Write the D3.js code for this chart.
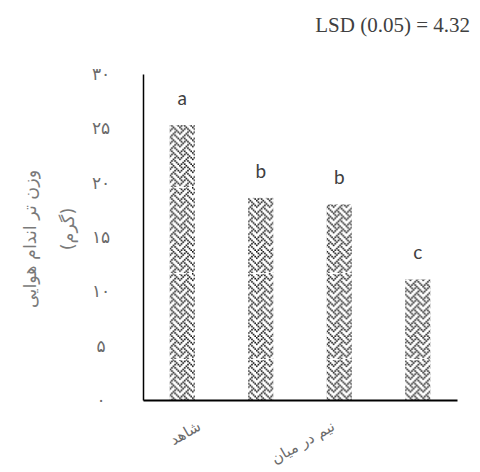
<!DOCTYPE html>
<html>
<head>
<meta charset="utf-8">
<script src="https://cdn.jsdelivr.net/npm/d3@7"></script>
<style>
  html, body { margin: 0; padding: 0; background: #fff; }
  svg { display: block; }
</style>
</head>
<body>
<svg id="chart" width="480" height="472"></svg>
<script>
// ---- data ----
const categoryIds = [0, 1, 2, 3];
const values = [25.3, 18.6, 18.0, 11.1];
const letters = ["a", "b", "b", "c"];
const tickLabels = ["شاهد", "نیم در میان"];
const tickLabelSpans = [[0, 0], [1, 2]];
const yTicks = [0, 5, 10, 15, 20, 25, 30];
const yTickText = ["۰", "۵", "۱۰", "۱۵", "۲۰", "۲۵", "۳۰"];
const yTitleLines = ["وزن تر اندام هوایی", "(گرم)"];
const lsdText = "LSD (0.05) = 4.32";
// weave bitmap (8x8)
const weaveRows = [0x88, 0x54, 0x22, 0x45, 0x88, 0x14, 0x22, 0x51];

const svg = d3.select("#chart");
const axisLeftX = 143, axisRightX = 457, axisBottomY = 400, axisTopY = 74;

const x = d3.scaleBand().domain(categoryIds).range([axisLeftX, axisRightX])
  .paddingInner(0.68).paddingOuter(0.34);
const y = d3.scaleLinear().domain([0, 30]).range([axisBottomY, axisTopY]);

// ---- patterns ----
const defs = svg.append("defs");
const cell = 1.6;
const weave = defs.append("pattern").attr("id", "weave")
  .attr("patternUnits", "userSpaceOnUse")
  .attr("width", 8 * cell).attr("height", 8 * cell);
weave.append("rect").attr("width", 8 * cell).attr("height", 8 * cell).attr("fill", "#fff");
weaveRows.forEach((bits, r) => {
  for (let c = 0; c < 8; c++) {
    if (bits & (0x80 >> c)) {
      weave.append("rect").attr("x", c * cell).attr("y", r * cell)
        .attr("width", cell).attr("height", cell).attr("fill", "#111");
    }
  }
});
const tile = defs.append("pattern").attr("id", "tile")
  .attr("patternUnits", "userSpaceOnUse")
  .attr("x", 0).attr("y", 15).attr("width", 8 * cell * 4).attr("height", 86);
tile.append("rect").attr("width", 8 * cell * 4).attr("height", 86).attr("fill", "url(#weave)");
tile.append("line").attr("x1", 0).attr("x2", 8 * cell * 4).attr("y1", 0.5).attr("y2", 0.5)
  .attr("stroke", "#fff").attr("stroke-width", 1).attr("stroke-dasharray", "3,2");

// ---- bars ----
svg.append("g").selectAll("rect").data(categoryIds).join("rect")
  .attr("x", i => x(i))
  .attr("y", i => y(values[i]))
  .attr("width", x.bandwidth())
  .attr("height", i => y(0) - y(values[i]))
  .attr("fill", "url(#tile)");

// ---- letters ----
svg.append("g").selectAll("text").data(categoryIds).join("text")
  .attr("x", i => x(i) + x.bandwidth() / 2)
  .attr("y", i => y(values[i]) - 20)
  .attr("text-anchor", "middle")
  .attr("font-family", "Lato, 'Open Sans', sans-serif")
  .attr("font-size", 19)
  .attr("fill", "#404040")
  .text(i => letters[i]);

// ---- axes ----
const yAxis = d3.axisLeft(y).tickValues(yTicks).tickSize(0).tickPadding(0)
  .tickFormat((d, i) => yTickText[i]);
const gy = svg.append("g").attr("transform", `translate(${axisLeftX},0)`).call(yAxis);
gy.select(".domain").attr("stroke", "#000").attr("stroke-width", 1.5);
gy.selectAll(".tick text")
  .attr("x", 101 - axisLeftX)
  .attr("text-anchor", "middle")
  .attr("font-family", "'DejaVu Sans', sans-serif")
  .attr("font-size", 17)
  .attr("fill", "#6b6b6b");

const xAxis = d3.axisBottom(x).tickSize(0).tickFormat("");
const gx = svg.append("g").attr("transform", `translate(0,${axisBottomY})`).call(xAxis);
gx.select(".domain").attr("stroke", "#000").attr("stroke-width", 2);

// ---- rotated category labels ----
const angle = 30;
const rad = angle * Math.PI / 180;
tickLabels.forEach((lab, k) => {
  const [a, b] = tickLabelSpans[k];
  const cx = (x(a) + x(b)) / 2 + x.bandwidth() / 2;
  const t = svg.append("text")
    .attr("text-anchor", "middle")
    .attr("dominant-baseline", "central")
    .attr("font-family", "'DejaVu Sans', sans-serif")
    .attr("font-size", 15)
    .attr("fill", "#6b6b6b")
    .text(lab);
  const bb = t.node().getBBox();
  const half = (bb.width * Math.sin(rad) + bb.height * Math.cos(rad)) / 2;
  t.attr("transform", `translate(${cx + 3},${axisBottomY + 17 + half}) rotate(${-angle})`);
});

// ---- y title ----
const titleX = [30, 68];
const titleY = [239, 229];
yTitleLines.forEach((line, k) => {
  svg.append("text")
    .attr("transform", `translate(${titleX[k]},${titleY[k]}) rotate(-90)`)
    .attr("text-anchor", "middle")
    .attr("dominant-baseline", "central")
    .attr("font-family", "'DejaVu Sans', sans-serif")
    .attr("font-size", 17.5)
    .attr("fill", "#7a7a7a")
    .text(line);
});

// ---- LSD note ----
svg.append("text")
  .attr("x", 470).attr("y", 32)
  .attr("text-anchor", "end")
  .attr("font-family", "'Liberation Serif', 'Times New Roman', serif")
  .attr("font-size", 21)
  .attr("fill", "#404040")
  .text(lsdText);
</script>
</body>
</html>
